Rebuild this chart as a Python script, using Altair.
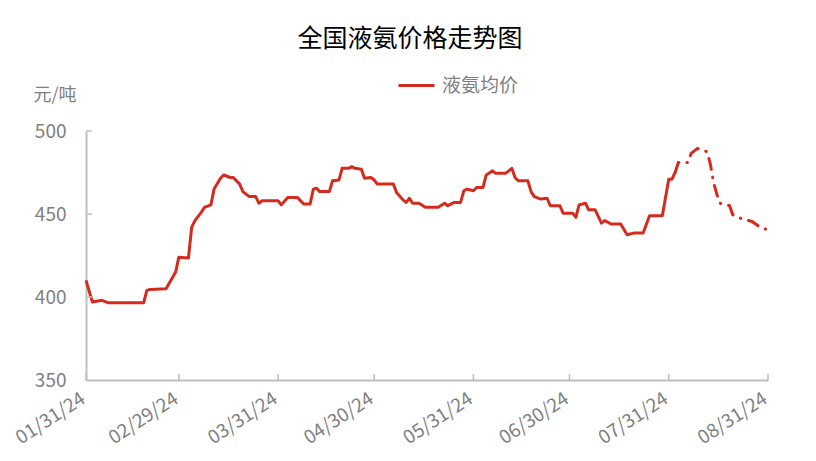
import altair as alt
import pandas as pd

# Actual average price (元/吨)
actual_dates = [
    "2024-01-31", "2024-02-02", "2024-02-05", "2024-02-07", "2024-02-18", "2024-02-19",
    "2024-02-20", "2024-02-25", "2024-02-28", "2024-02-29", "2024-03-03", "2024-03-04",
    "2024-03-05", "2024-03-07", "2024-03-08", "2024-03-10", "2024-03-11", "2024-03-13",
    "2024-03-14", "2024-03-16", "2024-03-17", "2024-03-19", "2024-03-20", "2024-03-22",
    "2024-03-24", "2024-03-25", "2024-03-26", "2024-03-31", "2024-04-01", "2024-04-03",
    "2024-04-06", "2024-04-08", "2024-04-10", "2024-04-11", "2024-04-12", "2024-04-13",
    "2024-04-16", "2024-04-17", "2024-04-19", "2024-04-20", "2024-04-22", "2024-04-23",
    "2024-04-24", "2024-04-26", "2024-04-27", "2024-04-29", "2024-04-30", "2024-05-01",
    "2024-05-06", "2024-05-07", "2024-05-09", "2024-05-10", "2024-05-11", "2024-05-12",
    "2024-05-14", "2024-05-16", "2024-05-20", "2024-05-22", "2024-05-23", "2024-05-25",
    "2024-05-27", "2024-05-28", "2024-05-29", "2024-05-31", "2024-06-01", "2024-06-03",
    "2024-06-04", "2024-06-06", "2024-06-07", "2024-06-10", "2024-06-12", "2024-06-13",
    "2024-06-14", "2024-06-17", "2024-06-18", "2024-06-19", "2024-06-21", "2024-06-23",
    "2024-06-24", "2024-06-27", "2024-06-28", "2024-07-01", "2024-07-02", "2024-07-03",
    "2024-07-05", "2024-07-06", "2024-07-08", "2024-07-10", "2024-07-11", "2024-07-13",
    "2024-07-16", "2024-07-18", "2024-07-20", "2024-07-23", "2024-07-25", "2024-07-29",
    "2024-07-31", "2024-08-01", "2024-08-02",
]
actual_values = [
    410, 397, 398, 396.5, 396.5, 404,
    404.5, 405, 415, 424, 423.5, 442,
    446, 451, 454, 455.5, 465, 471.5,
    473.5, 472, 472, 468, 463.5, 460.5,
    460.5, 456.5, 458, 458, 455.5, 460,
    460, 456, 456, 465, 465.5, 463.5,
    463.5, 470, 470.5, 477.5, 477.5, 478.5,
    477.5, 477, 471.5, 472, 470.5, 468,
    468, 463, 458.5, 457, 459.5, 456.5,
    456.5, 454, 454, 456.5, 455, 457,
    457, 464, 465, 464, 466, 466,
    473.5, 476, 474.5, 474.5, 477.5, 472,
    470, 470, 463.5, 460.5, 459, 459.5,
    455, 455, 450.5, 450.5, 448, 455.5,
    456.5, 452.5, 452.5, 444.5, 446, 444,
    444, 437.5, 438.5, 438.5, 449, 449,
    471, 471, 475,
]

# Forecast part (dash-dot)
fc_dates = [
    "2024-08-02", "2024-08-03", "2024-08-06", "2024-08-07", "2024-08-09", "2024-08-12",
    "2024-08-13", "2024-08-14", "2024-08-15", "2024-08-16", "2024-08-19", "2024-08-20",
    "2024-08-23", "2024-08-26", "2024-08-29", "2024-08-31",
]
fc_values = [
    475, 481, 481, 486.5, 489.5, 487.5,
    480, 469, 462, 456.5, 455, 449.5,
    447, 445.5, 441.5, 440.5,
]

tick_dates = ["2024-01-31", "2024-02-29", "2024-03-31", "2024-04-30",
              "2024-05-31", "2024-06-30", "2024-07-31", "2024-08-31"]
y_ticks = [350, 400, 450, 500]

series_name = "液氨均价"
RED = "#d52b1e"
GRAY = "#7f7f7f"
AXIS = "#bfbfbf"
FONT = "Noto Sans CJK SC"

df_a = pd.DataFrame({"date": actual_dates, "value": actual_values, "series": series_name})
df_f = pd.DataFrame({"date": fc_dates, "value": fc_values})
df_t = pd.DataFrame({"date": tick_dates})
df_y = pd.DataFrame({"v": y_ticks[1:]})

def dt(s):
    y, m, d = map(int, s.split("-"))
    return alt.DateTime(year=y, month=m, date=d, utc=True)

xscale = alt.Scale(type="utc", domain=[dt(tick_dates[0]), dt(tick_dates[-1])], nice=False)
yscale = alt.Scale(domain=[350, 500], nice=False, zero=False)

xaxis = alt.Axis(
    values=[dt(s) for s in tick_dates], format="%m/%d/%y", title=None,
    labelAngle=-33, labelAlign="right", labelBaseline="top", labelPadding=9,
    labelOffset=-8, labelFlush=False, labelOverlap=False,
    labelFontSize=19, labelColor=GRAY, labelFont=FONT,
    ticks=False, grid=False, domainColor=AXIS, domainWidth=2,
)
yaxis = alt.Axis(
    values=y_ticks, title="元/吨", titleAngle=0, titleX=-53, titleY=-36,
    titleAlign="left", titleBaseline="middle", titleFontSize=18,
    titleFontWeight="normal", titleColor=GRAY, titleFont=FONT,
    labelFontSize=19, labelColor=GRAY, labelFont=FONT, labelPadding=20,
    ticks=False, grid=False, domainColor=AXIS, domainWidth=2,
)

base_x = alt.X("date:T", scale=xscale, axis=xaxis)
base_y = alt.Y("value:Q", scale=yscale, axis=yaxis)

actual = alt.Chart(df_a).mark_line(strokeWidth=3, strokeJoin="round").encode(
    x=base_x, y=base_y,
    color=alt.Color("series:N", scale=alt.Scale(range=[RED]),
                    legend=alt.Legend(title=None, orient="none", legendX=311, legendY=-65,
                                      symbolType="stroke", symbolSize=1296,
                                      symbolStrokeWidth=3, labelFontSize=19,
                                      labelColor=GRAY, labelFont=FONT, labelOffset=6)),
)

forecast = alt.Chart(df_f).mark_line(
    strokeWidth=3, strokeDash=[11, 8, 0.5, 8], strokeCap="round", color=RED
).encode(x="date:T", y="value:Q")

xticks = alt.Chart(df_t).mark_rule(color=AXIS, strokeWidth=1.5).encode(
    x="date:T", y=alt.value(249), y2=alt.value(243))
yticks = alt.Chart(df_y).mark_rule(color=AXIS, strokeWidth=1.5).encode(
    y="v:Q", x=alt.value(0), x2=alt.value(6))

chart = alt.layer(actual, forecast, xticks, yticks).properties(
    width=682, height=249,
    autosize=alt.AutoSizeParams(type="none"),
    padding={"left": 78, "top": 123, "right": 40, "bottom": 73},
    title=alt.TitleParams("全国液氨价格走势图", fontSize=25, font=FONT, fontWeight="normal",
                          color="#000000", anchor="middle", dx=-17, offset=14),
).configure_view(stroke=None)

chart.save("out.html", embed_options={"renderer": "svg", "actions": False})
